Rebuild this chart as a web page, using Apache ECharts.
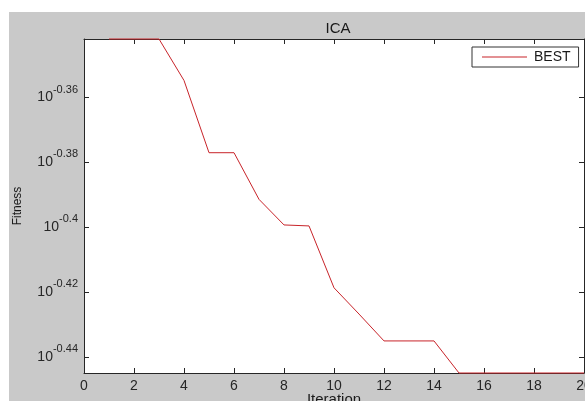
<!DOCTYPE html>
<html>
<head>
<meta charset="utf-8">
<script src="https://cdn.jsdelivr.net/npm/echarts@6/dist/echarts.min.js"></script>
<style>
html,body{margin:0;padding:0;background:#fff;}
#c{width:585px;height:401px;}
</style>
</head>
<body>
<div id="c"></div>
<script>
// Data (y values are the base-10 exponents of Fitness, as shown on the log axis)
const iterations = [1,2,3,4,5,6,7,8,9,10,11,12,13,14,15,16,17,18,19,20];
const bestExp = [-0.3419,-0.3419,-0.3419,-0.3547,-0.3770,-0.3770,-0.3914,-0.3993,-0.3996,-0.4187,
                 -0.4268,-0.4351,-0.4351,-0.4351,-0.4450,-0.4450,-0.4450,-0.4450,-0.4450,-0.4450];
const yTickExps = [-0.44,-0.42,-0.40,-0.38,-0.36];
const seriesName = 'BEST';
const titleText = 'ICA';
const xName = 'Iteration';
const yName = 'Fitness';

const FONT = 'Liberation Sans, Arial, sans-serif';
const AX = '#262626';
const yMin = -0.4450, yMax = -0.3419;

const chart = echarts.init(document.getElementById('c'), null, {renderer:'canvas'});
const yFmt = v => '{b|10}{s|' + parseFloat(v.toFixed(2)) + '}';

chart.setOption({
  backgroundColor: '#ffffff',
  animation: false,
  graphic: [{
    type: 'rect', z: -10, silent: true,
    shape: {x: 9, y: 12, width: 600, height: 400},
    style: {fill: '#c9c9c9'}
  }],
  title: {
    text: titleText, left: 333, top: 16, textAlign: 'center',
    textStyle: {fontFamily: FONT, fontSize: 15, fontWeight: 'normal', color: '#1a1a1a'}
  },
  legend: {
    left: 472, top: 47,
    padding: [3, 8, 3, 10],
    backgroundColor: '#ffffff',
    borderColor: '#333', borderWidth: 1, borderRadius: 0,
    icon: 'rect', itemWidth: 45, itemHeight: 1.2,
    textStyle: {fontFamily: FONT, fontSize: 14, color: '#1a1a1a', padding: [0,0,0,2]},
    data: [seriesName]
  },
  grid: {
    left: 84, right: 1, top: 39, bottom: 28,
    containLabel: false, outerBoundsMode: 'none',
    show: true, backgroundColor: '#ffffff', borderWidth: 0
  },
  xAxis: [{
    type: 'value', min: 0, max: 20, interval: 2,
    name: xName, nameLocation: 'middle', nameGap: 19, nameMoveOverlap: false,
    nameTextStyle: {fontFamily: FONT, fontSize: 15, color: '#1a1a1a', verticalAlign: 'top'},
    axisLine: {show: true, lineStyle: {color: AX, width: 1}},
    axisTick: {show: true, inside: true, length: 5, lineStyle: {color: AX}},
    axisLabel: {fontFamily: FONT, fontSize: 14, color: '#262626', margin: 6},
    splitLine: {show: false}
  }, {
    type: 'value', min: 0, max: 20, interval: 2, position: 'top',
    axisLine: {show: true, onZero: false, lineStyle: {color: AX, width: 1}},
    axisTick: {show: true, inside: true, length: 5, lineStyle: {color: AX}},
    axisLabel: {show: false}, splitLine: {show: false}
  }],
  yAxis: [{
    type: 'value', min: yMin, max: yMax,
    name: yName, nameLocation: 'middle', nameGap: 60, nameRotate: 90,
    nameTextStyle: {fontFamily: FONT, fontSize: 12, color: '#1a1a1a'},
    axisLine: {show: true, onZero: false, lineStyle: {color: AX, width: 1}},
    axisTick: {show: true, inside: true, length: 5, customValues: yTickExps, lineStyle: {color: AX}},
    axisLabel: {
      customValues: yTickExps, margin: 6, formatter: yFmt,
      rich: {
        b: {fontFamily: FONT, fontSize: 14, color: '#262626'},
        s: {fontFamily: FONT, fontSize: 11, color: '#262626', padding: [0,0,16,0]}
      }
    },
    splitLine: {show: false}
  }, {
    type: 'value', min: yMin, max: yMax, position: 'right',
    axisLine: {show: true, onZero: false, lineStyle: {color: AX, width: 1}},
    axisTick: {show: true, inside: true, length: 5, customValues: yTickExps, lineStyle: {color: AX}},
    axisLabel: {show: false}, splitLine: {show: false}
  }],
  series: [{
    name: seriesName, type: 'line', xAxisIndex: 0, yAxisIndex: 0,
    data: iterations.map((x, i) => [x, bestExp[i]]),
    symbol: 'none', clip: false,
    itemStyle: {color: '#c8242a'},
    lineStyle: {color: '#c8242a', width: 1}
  }]
});
</script>
</body>
</html>
